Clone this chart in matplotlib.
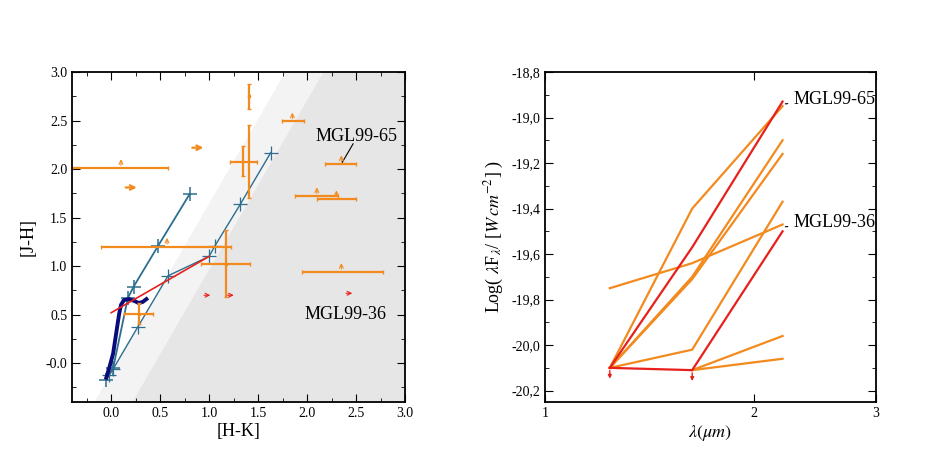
import numpy as np
import matplotlib.pyplot as plt
from matplotlib.ticker import MultipleLocator, FixedLocator, NullLocator

plt.rcParams['font.family'] = ['Liberation Serif', 'DejaVu Serif']
plt.rcParams['mathtext.fontset'] = 'stix'

ORANGE = '#f28a1e'
RED = '#e8201c'
BLUE = '#2d6e8e'
NAVY = '#0a0a7a'

# ---- left panel data ----
# reddening vectors (H-K, J-H) with marks
vec1_hk = [-0.05, 0.02, 0.17, 0.23, 0.48, 0.80]
vec1_jh = [-0.17, -0.05, 0.67, 0.79, 1.21, 1.74]
vec2_hk = [-0.02, 0.02, 0.27, 0.58, 1.00, 1.06, 1.32, 1.63]
vec2_jh = [-0.12, -0.06, 0.37, 0.90, 1.10, 1.21, 1.64, 2.17]
# main sequence / giant branch
ms_hk = [-0.05, -0.02, 0.02, 0.05, 0.08, 0.10, 0.13, 0.18, 0.24, 0.28, 0.32, 0.36]
ms_jh = [-0.15, -0.05, 0.10, 0.30, 0.50, 0.60, 0.65, 0.66, 0.64, 0.62, 0.63, 0.66]
# CTTS locus
ctts_hk = [0.0, 1.0]
ctts_jh = [0.52, 1.10]

# measured sources: x, y, xlo, xhi, ylo, yhi
src_x = [1.17, 0.28, 1.41]
src_y = [1.02, 0.51, 2.75]
src_xlo = [0.92, 0.13, 1.41]
src_xhi = [1.42, 0.43, 1.41]
src_ylo = [0.68, 0.40, 2.62]
src_yhi = [1.37, 0.62, 2.88]
# J-H lower limit sources (up arrow): x, y, xlo, xhi
up_x = [0.10, 0.57, 1.85, 2.35, 2.10, 2.30, 2.35]
up_y = [2.01, 1.20, 2.49, 2.05, 1.72, 1.69, 0.94]
up_xlo = [-0.40, -0.10, 1.74, 2.18, 1.88, 2.10, 1.95]
up_xhi = [0.58, 1.22, 1.97, 2.50, 2.32, 2.50, 2.78]
# H-K lower limits (right arrows)
right_x = [0.12, 0.80]
right_y = [1.81, 2.22]
right_red_x = [0.92, 1.16, 2.37]
right_red_y = [0.70, 0.70, 0.72]

# ---- right panel data ----
wave = [1.24, 1.63, 2.2]
sed_orange = [
    [-20.10, -19.40, -18.95],
    [-20.10, -19.70, -19.10],
    [-20.10, -19.71, -19.16],
    [-20.10, -20.02, -19.37],
    [-19.75, -19.64, -19.47],
    [np.nan, -20.11, -19.96],
    [np.nan, -20.11, -20.06],
]
sed_red = [
    [-20.10, -19.57, -18.93],
    [-20.10, -20.11, -19.50],
]

fig = plt.figure(figsize=(9.48, 4.75), dpi=100)
ax1 = fig.add_axes([72/948, 73/475, 333/948, 330/475])
ax2 = fig.add_axes([545/948, 73/475, 331/948, 330/475])

# shaded reddening band
yb = np.array([-0.4, 3.0])
slope = 3.4 / 1.95
ax1.fill_betweenx(yb, -0.18 + (yb + 0.4) / slope, 3.0, color='#f3f3f3', zorder=0, lw=0)
ax1.fill_betweenx(yb, 0.21 + (yb + 0.4) / slope, 3.0, color='#e6e6e6', zorder=0, lw=0)

ax1.plot(vec1_hk, vec1_jh, color=BLUE, lw=1.3, marker='+', ms=10, mew=1.1)
ax1.plot(vec2_hk, vec2_jh, color=BLUE, lw=1.0, marker='+', ms=10, mew=0.9)
ax1.plot(ms_hk, ms_jh, color=NAVY, lw=2.8)
ax1.plot(ctts_hk, ctts_jh, color=RED, lw=1.2)

for x, y, xl, xh, yl, yh in zip(src_x, src_y, src_xlo, src_xhi, src_ylo, src_yhi):
    ax1.errorbar(x, y, xerr=[[x - xl], [xh - x]], yerr=[[y - yl], [yh - y]],
                 color=ORANGE, lw=1.6, capsize=1.5, fmt='s', ms=2)
ax1.errorbar(1.35, 2.07, xerr=0.14, yerr=[[0.14], [0.17]], color=ORANGE, lw=1.6, capsize=1.5)
ax1.errorbar(1.41, 2.07, yerr=[[0.37], [0.38]], color=ORANGE, lw=1.6, capsize=1.5)
for x, y, xl, xh in zip(up_x, up_y, up_xlo, up_xhi):
    ax1.errorbar(x, y, xerr=[[x - xl], [xh - x]], color=ORANGE, lw=1.6, capsize=1.5)
    ax1.annotate('', xy=(x, y + 0.12), xytext=(x, y),
                 arrowprops=dict(arrowstyle='->', color=ORANGE, lw=0.8,
                                 mutation_scale=7))
for x, y in zip(right_x, right_y):
    ax1.annotate('', xy=(x + 0.17, y), xytext=(x, y),
                 arrowprops=dict(arrowstyle='->', color=ORANGE, lw=1.6, mutation_scale=8))
for x, y in zip(right_red_x, right_red_y):
    ax1.annotate('', xy=(x + 0.12, y), xytext=(x, y),
                 arrowprops=dict(arrowstyle='->', color=RED, lw=0.8, mutation_scale=7))

ax1.text(2.09, 2.29, 'MGL99-65', fontsize=13)
ax1.plot([2.36, 2.47], [2.07, 2.26], color='black', lw=0.8)
ax1.text(1.97, 0.46, 'MGL99-36', fontsize=13)

ax1.set_xlim(-0.4, 3.0)
ax1.set_ylim(-0.4, 3.0)
ax1.set_yticks(np.arange(0, 3.01, 0.5))
ax1.set_yticklabels(['-0.0', '0.5', '1.0', '1.5', '2.0', '2.5', '3.0'])
ax1.set_xticks(np.arange(0, 3.01, 0.5))
ax1.set_xticklabels(['0.0', '0.5', '1.0', '1.5', '2.0', '2.5', '3.0'])
ax1.xaxis.set_minor_locator(MultipleLocator(0.25))
ax1.yaxis.set_minor_locator(MultipleLocator(0.25))
ax1.set_xlabel('[H-K]', fontsize=13, labelpad=2)
ax1.set_ylabel('[J-H]', fontsize=13, labelpad=6)

# right panel
for s in sed_orange:
    ax2.plot(wave, s, color=ORANGE, lw=1.6)
for s in sed_red:
    ax2.plot(wave, s, color=RED, lw=1.6)
for x, y in [(wave[0], -20.10), (wave[1], -20.11)]:
    ax2.annotate('', xy=(x, y - 0.06), xytext=(x, y),
                 arrowprops=dict(arrowstyle='-|>', color=RED, lw=1.0, mutation_scale=5))
ax2.annotate('MGL99-65', xy=(2.22, -18.94), xytext=(2.28, -18.92), fontsize=13,
             va='center', arrowprops=dict(arrowstyle='-', color='black', lw=0.8))
ax2.annotate('MGL99-36', xy=(2.22, -19.48), xytext=(2.28, -19.46), fontsize=13,
             va='center', arrowprops=dict(arrowstyle='-', color='black', lw=0.8))
ax2.set_xscale('log')
ax2.set_xlim(1, 3)
ax2.set_ylim(-20.25, -18.8)
ax2.xaxis.set_major_locator(FixedLocator([1, 2, 3]))
ax2.xaxis.set_minor_locator(NullLocator())
ax2.set_xticklabels(['1', '2', '3'])
yt = np.arange(-20.2, -18.79, 0.2)
ax2.set_yticks(yt)
ax2.set_yticklabels([('%.1f' % v).replace('.', ',') for v in yt])
ax2.yaxis.set_minor_locator(MultipleLocator(0.1))
ax2.set_xlabel(r'$\lambda(\mu m)$', fontsize=13, labelpad=2)
ax2.set_ylabel(r'Log( $\lambda$F$_\lambda$/ [$W\, cm^{-2}$] )', fontsize=13)

for ax in (ax1, ax2):
    ax.tick_params(which='both', direction='in', top=True, right=True, labelsize=10)
    ax.tick_params(which='major', length=6)
    ax.tick_params(which='minor', length=3)
    for sp in ax.spines.values():
        sp.set_linewidth(1.3)

fig.savefig('out.png', dpi=100)
